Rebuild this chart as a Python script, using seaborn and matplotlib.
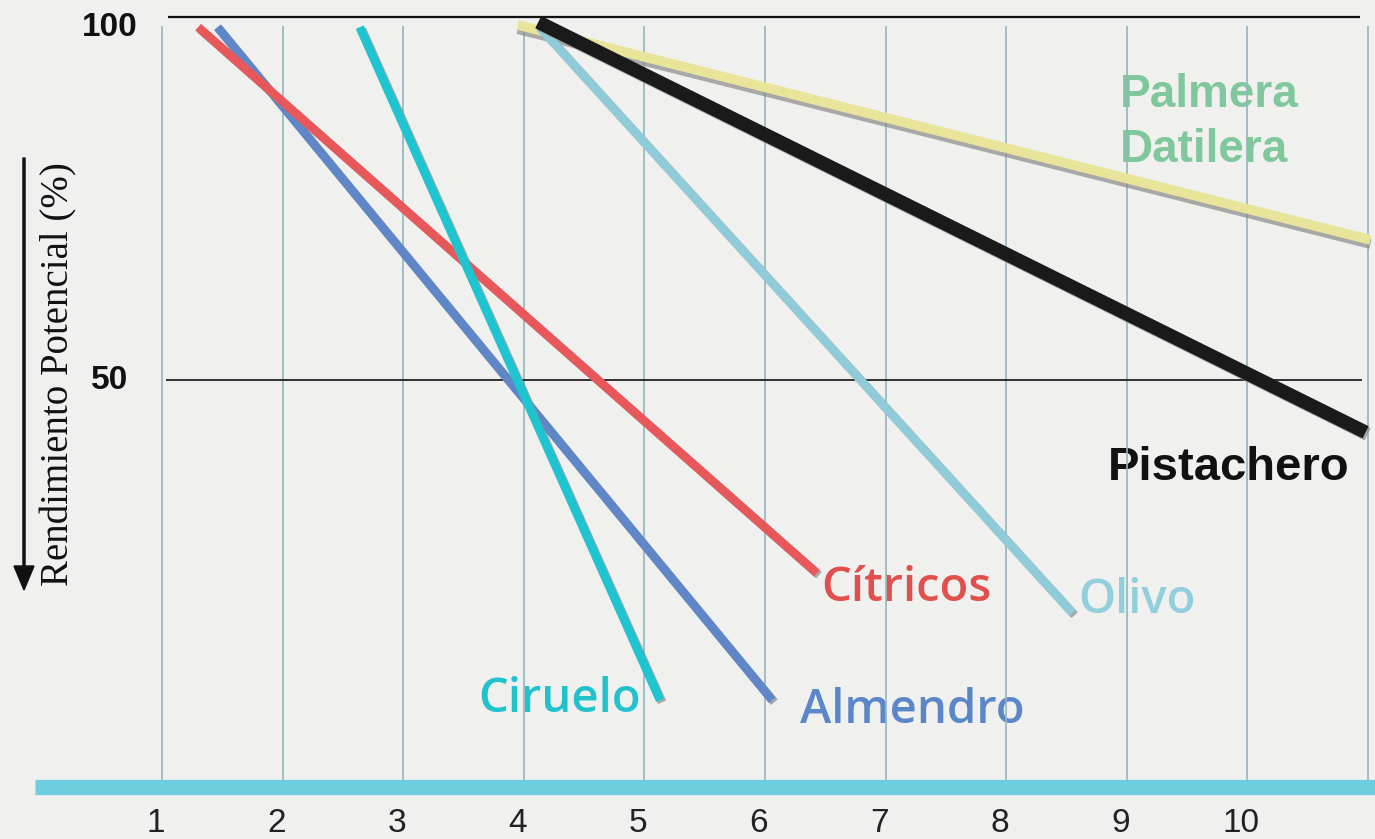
import numpy as np
import pandas as pd
import matplotlib
matplotlib.use("Agg")
import matplotlib.pyplot as plt
import matplotlib.patheffects as pe
import seaborn as sns

# ---- data ----
crops = ["Almendro", "Cítricos", "Ciruelo", "Olivo", "Pistachero", "Palmera Datilera"]
x_start = [1.46, 1.30, 2.64, 4.13, 4.12, 3.95]
y_start = [98.6, 98.6, 98.6, 98.6, 99.3, 98.9]
x_end = [6.06, 6.43, 5.13, 8.55, 10.98, 11.02]
y_end = [5.9, 23.4, 5.9, 17.9, 42.8, 69.3]
x_ticks = [1, 2, 3, 4, 5, 6, 7, 8, 9, 10]
y_ticks = [100, 50]

line_colors = {"Almendro": "#5f87c8", "Cítricos": "#e8585a", "Ciruelo": "#1ec4cf",
               "Olivo": "#8fcbd9", "Pistachero": "#1a1a1a", "Palmera Datilera": "#e8e59a"}
label_colors = {"Almendro": "#5b87c8", "Cítricos": "#e2504e", "Ciruelo": "#22c2cc",
                "Olivo": "#92cfdc", "Pistachero": "#111111", "Palmera Datilera": "#80c89c"}
widths = {"Almendro": 6.3, "Cítricos": 6.3, "Ciruelo": 6.3, "Olivo": 6.3, "Pistachero": 9.8,
          "Palmera Datilera": 7}

rows = []
for c, xs, ys, xe, ye in zip(crops, x_start, y_start, x_end, y_end):
    rows.append({"cultivo": c, "x": xs, "y": ys, "o": 0})
    rows.append({"cultivo": c, "x": xe, "y": ye, "o": 1})
df = pd.DataFrame(rows)

sns.set_theme(style="white")
plt.rcParams["font.family"] = ["Liberation Sans", "DejaVu Sans"]

BG = "#f0f0ee"
fig = plt.figure(figsize=(13.75, 8.39), dpi=100, facecolor=BG)
ax = fig.add_axes([0, 0, 1, 1])
ax.set_facecolor(BG)
ax.set_xlim(-0.343, 11.058)
ax.set_ylim(-13.22, 102.34)
for s in ax.spines.values():
    s.set_visible(False)
ax.set_xticks([])
ax.set_yticks([])

# vertical grid lines
grid_x = list(range(1, 12))
ax.vlines(grid_x, -6.0, 98.8, color="#93b6be", lw=1.2, zorder=1)
# horizontal reference lines
ax.hlines(100, 1.05, 10.93, color="#111111", lw=1.6, zorder=2)
ax.hlines(50, 1.03, 10.95, color="#111111", lw=1.2, zorder=2)
# bottom axis bar
ax.hlines(-6.06, -0.053, 11.058, color="#6fcde0", lw=11, zorder=2)

order = ["Palmera Datilera", "Almendro", "Cítricos", "Olivo", "Ciruelo", "Pistachero"]
for c in order:
    sub = df[df["cultivo"] == c]
    sns.lineplot(data=sub, x="x", y="y", sort=False, color=line_colors[c],
                 linewidth=widths[c], ax=ax, legend=False, zorder=4)
    ln = ax.lines[-1]
    ln.set_solid_capstyle("butt")
    off = (0, -3) if c == "Palmera Datilera" else (1.5, -1.5)
    ln.set_path_effects([pe.SimpleLineShadow(offset=off, shadow_color="#8a8a8a", alpha=0.7),
                         pe.Normal()])
ax.set_xlabel("")
ax.set_ylabel("")

# series labels (drawn beneath the grid lines, as in the original)
bold_font = ["Liberation Sans", "DejaVu Sans"]
reg_font = ["Open Sans", "DejaVu Sans"]
TZ = 0.5
ax.text(8.94, 87.6, "Palmera", color=label_colors["Palmera Datilera"], fontsize=33,
        fontweight="bold", family=bold_font, va="baseline", ha="left", zorder=TZ)
ax.text(8.94, 80.0, "Datilera", color=label_colors["Palmera Datilera"], fontsize=33,
        fontweight="bold", family=bold_font, va="baseline", ha="left", zorder=TZ)
ax.text(8.84, 36.2, "Pistachero", color=label_colors["Pistachero"], fontsize=34,
        fontweight="bold", family=bold_font, va="baseline", ha="left", zorder=TZ)
ax.text(6.47, 19.6, "Cítricos", color=label_colors["Cítricos"], fontsize=34,
        fontweight="semibold", family=reg_font, va="baseline", ha="left", zorder=TZ)
ax.text(8.60, 17.9, "Olivo", color=label_colors["Olivo"], fontsize=34,
        fontweight="semibold", family=reg_font, va="baseline", ha="left", zorder=TZ)
ax.text(3.62, 4.3, "Ciruelo", color=label_colors["Ciruelo"], fontsize=34,
        fontweight="semibold", family=reg_font, va="baseline", ha="left", zorder=TZ)
ax.text(6.29, 2.8, "Almendro", color=label_colors["Almendro"], fontsize=34,
        fontweight="semibold", family=reg_font, va="baseline", ha="left", zorder=TZ)

# x tick labels
for xv in x_ticks:
    ax.text(xv - 0.05, -11.1, str(xv), fontsize=24, color="#222222",
            ha="center", va="center", family=bold_font)

# y tick labels
ytick_pos = {100: (0.80, 98.5), 50: (0.72, 49.9)}
for yv in y_ticks:
    xp, yp = ytick_pos[yv]
    ax.text(xp, yp, str(yv), fontsize=24, fontweight="bold",
            color="#111111", ha="right", va="center", family=bold_font)

# y axis title with arrow
fig.text(59 / 1375, 1 - 374 / 839, "Rendimiento Potencial (%)", rotation=90,
         fontsize=28, family=["Liberation Serif", "DejaVu Serif"], color="#111111",
         ha="center", va="center")
fig.patches.append(matplotlib.patches.FancyArrow(
    24 / 1375, 1 - 158 / 839, 0, -(590 - 158) / 839, width=0.0015,
    head_width=20 / 1375, head_length=24 / 839, length_includes_head=True,
    color="#111111", transform=fig.transFigure, figure=fig))

fig.savefig("out.png", dpi=100, facecolor=BG)
